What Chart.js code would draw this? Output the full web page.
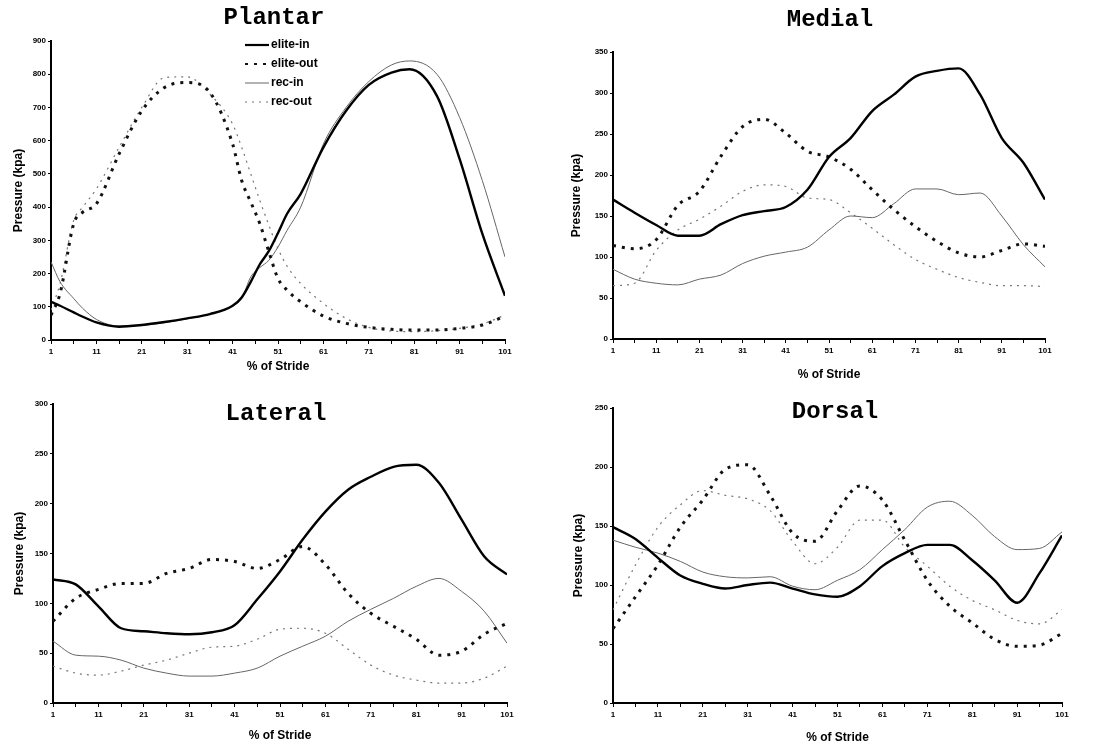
<!DOCTYPE html>
<html>
<head>
<meta charset="utf-8">
<title>Pressure across the stride</title>
<script src="https://cdn.jsdelivr.net/npm/chart.js@4.4.1/dist/chart.umd.min.js"></script>
<style>
  html, body { margin: 0; padding: 0; background: #fff; }
  #wrap { position: relative; width: 1097px; height: 746px; overflow: hidden; background: #fff; }
  #wrap canvas { position: absolute; left: 0; top: 0; }
</style>
</head>
<body>
<div id="wrap">
  <canvas id="plantar" width="1097" height="746"></canvas>
  <canvas id="medial" width="1097" height="746"></canvas>
  <canvas id="lateral" width="1097" height="746"></canvas>
  <canvas id="dorsal" width="1097" height="746"></canvas>
</div>
<script>
// ---- series and axis data ----
const seriesNames = ['elite-in', 'elite-out', 'rec-in', 'rec-out'];
const strideTicks = [1, 6, 11, 16, 21, 26, 31, 36, 41, 46, 51, 56, 61, 66, 71, 76, 81, 86, 91, 96, 101];

// Plantar (sampled more densely where the curves turn quickly)
const plantarStride = [1, 3, 6, 8, 11, 16, 21, 26, 31, 36, 41, 43, 45, 47, 49, 51, 53, 56, 61, 66, 71, 76, 80, 86, 91, 96, 101];
const plantarEliteIn  = [115, 103, 83, 70, 53, 40, 45, 54, 65, 78, 103, 128, 175, 228, 268, 322, 380, 440, 580, 690, 768, 805, 815, 735, 545, 320, 133];
const plantarEliteOut = [75, 140, 350, 385, 410, 560, 690, 760, 775, 745, 590, 480, 415, 350, 265, 185, 150, 115, 72, 50, 38, 32, 30, 30, 35, 45, 72];
const plantarRecIn    = [235, 175, 125, 95, 62, 42, 44, 52, 64, 78, 103, 125, 190, 218, 240, 280, 330, 400, 590, 700, 778, 828, 840, 800, 670, 480, 250];
const plantarRecOut   = [90, 170, 360, 400, 455, 580, 700, 790, 792, 740, 650, 580, 500, 420, 345, 275, 222, 170, 110, 65, 38, 27, 25, 28, 35, 48, 75];
const plantarYTicks = [0, 100, 200, 300, 400, 500, 600, 700, 800, 900];

// Medial
const medialStride = strideTicks;
const medialEliteIn  = [170, 154, 139, 126, 126, 140, 151, 156, 161, 182, 222, 245, 278, 298, 320, 327, 330, 298, 245, 215, 170];
const medialEliteOut = [114, 110, 121, 163, 180, 223, 259, 268, 251, 229, 222, 207, 182, 158, 137, 119, 105, 100, 108, 116, 113];
const medialRecIn    = [85, 73, 68, 66, 73, 78, 92, 101, 106, 112, 133, 150, 148, 165, 183, 183, 176, 178, 150, 115, 88];
const medialRecOut   = [65, 68, 108, 133, 146, 162, 180, 188, 186, 172, 170, 154, 135, 115, 97, 85, 75, 69, 65, 65, 64];
const medialYTicks = [0, 50, 100, 150, 200, 250, 300, 350];

// Lateral
const lateralStride = strideTicks;
const lateralEliteIn  = [124, 119, 97, 75, 72, 70, 69, 71, 78, 104, 132, 164, 192, 214, 227, 237, 239, 221, 184, 147, 129];
const lateralEliteOut = [82, 105, 114, 120, 120, 130, 135, 144, 142, 135, 144, 157, 139, 110, 90, 77, 64, 48, 52, 69, 80];
const lateralRecIn    = [62, 48, 47, 43, 35, 30, 27, 27, 30, 35, 47, 57, 67, 82, 94, 105, 117, 125, 112, 92, 60];
const lateralRecOut   = [37, 30, 28, 32, 38, 43, 50, 56, 57, 64, 74, 75, 70, 54, 38, 28, 23, 20, 20, 25, 37];
const lateralYTicks = [0, 50, 100, 150, 200, 250, 300];

// Dorsal
const dorsalStride = strideTicks;
const dorsalEliteIn  = [149, 139, 123, 108, 101, 97, 100, 102, 97, 92, 90, 99, 116, 127, 134, 134, 121, 104, 85, 110, 142];
const dorsalEliteOut = [63, 90, 117, 149, 172, 198, 202, 176, 144, 137, 163, 184, 172, 138, 104, 82, 68, 54, 48, 49, 59];
const dorsalRecIn    = [138, 132, 127, 120, 111, 107, 106, 107, 99, 96, 104, 113, 130, 147, 166, 171, 159, 141, 130, 131, 145];
const dorsalRecOut   = [79, 117, 149, 168, 180, 176, 173, 163, 137, 118, 132, 155, 155, 132, 116, 99, 87, 79, 70, 67, 79];
const dorsalYTicks = [0, 50, 100, 150, 200, 250];

// ---- drawing ----
const W = 1097, H = 746;
const TITLE_LH = 12 * 1.2;

const lineStyles = [
  { borderColor: '#000', borderWidth: 2.4, borderDash: [] },
  { borderColor: '#111', borderWidth: 3, borderDash: [3, 6] },
  { borderColor: '#666', borderWidth: 1, borderDash: [] },
  { borderColor: '#777', borderWidth: 1.2, borderDash: [2, 5] }
];

// Panel heading in a typewriter face
const panelTitle = {
  id: 'panelTitle',
  afterDraw(chart, args, opts) {
    const ctx = chart.ctx;
    ctx.save();
    ctx.font = 'bold 24px "Liberation Mono", "Courier New", monospace';
    ctx.fillStyle = '#000';
    ctx.textAlign = 'center';
    ctx.textBaseline = 'middle';
    ctx.fillText(opts.text, opts.x, opts.y);
    ctx.restore();
  }
};

// Compact key with a short line sample beside each series name
const seriesKey = {
  id: 'seriesKey',
  afterDraw(chart, args, opts) {
    if (!opts.show) return;
    const ctx = chart.ctx;
    ctx.save();
    ctx.font = 'bold 12px "Liberation Sans", Arial, sans-serif';
    ctx.fillStyle = '#000';
    ctx.textBaseline = 'middle';
    chart.data.datasets.forEach((ds, i) => {
      const y = opts.y + i * opts.gap;
      ctx.beginPath();
      ctx.strokeStyle = ds.borderColor;
      ctx.lineWidth = Math.min(ds.borderWidth, 2.2);
      ctx.setLineDash(ds.borderDash || []);
      ctx.moveTo(opts.x, y);
      ctx.lineTo(opts.x + opts.len, y);
      ctx.stroke();
      ctx.setLineDash([]);
      ctx.fillText(ds.label, opts.x + opts.len + 2, y);
    });
    ctx.restore();
  }
};

function drawPanel(id, title, xs, series, yTicks, g, key) {
  const yMax = yTicks[yTicks.length - 1];
  const yStep = yTicks[1] - yTicks[0];
  const tickFont = { family: '"Liberation Sans", Arial, sans-serif', size: 8, weight: 'bold' };
  const axisTitleFont = { family: '"Liberation Sans", Arial, sans-serif', size: 12, weight: 'bold' };

  const datasets = series.map((vals, i) => Object.assign({
    label: seriesNames[i],
    data: xs.map((x, j) => ({ x: x, y: vals[j] })),
    pointRadius: 0,
    fill: false,
    cubicInterpolationMode: 'monotone',
    borderCapStyle: 'butt'
  }, lineStyles[i]));

  new Chart(document.getElementById(id), {
    type: 'line',
    data: { datasets },
    plugins: [panelTitle, seriesKey],
    options: {
      responsive: false,
      animation: false,
      events: [],
      layout: {
        padding: {
          left: g.yTitleX - TITLE_LH / 2,
          right: W - g.right,
          top: g.top,
          bottom: H - (g.xTitleY + TITLE_LH / 2)
        }
      },
      plugins: {
        legend: { display: false },
        tooltip: { enabled: false },
        title: { display: false },
        panelTitle: { text: title, x: g.titleX, y: g.titleY },
        seriesKey: key || { show: false }
      },
      scales: {
        x: {
          type: 'linear',
          min: 1,
          max: 101,
          afterBuildTicks: s => { s.ticks = strideTicks.map(v => ({ value: v })); },
          afterFit: s => { s.height = g.xTitleY + TITLE_LH / 2 - g.bottom; },
          ticks: {
            autoSkip: false,
            maxRotation: 0,
            minRotation: 0,
            padding: 3,
            color: '#000',
            font: tickFont,
            callback: v => ((v - 1) % 10 === 0 ? String(v) : '')
          },
          grid: { drawOnChartArea: false, drawTicks: true, tickLength: 4, color: '#000', lineWidth: 1 },
          border: { display: true, color: '#000', width: 2 },
          title: { display: true, text: '% of Stride', color: '#000', font: axisTitleFont, padding: 0 }
        },
        y: {
          type: 'linear',
          min: 0,
          max: yMax,
          afterBuildTicks: s => { s.ticks = yTicks.map(v => ({ value: v })); },
          afterFit: s => { s.width = g.left - (g.yTitleX - TITLE_LH / 2); },
          ticks: { stepSize: yStep, padding: 2, color: '#000', font: tickFont },
          grid: { drawOnChartArea: false, drawTicks: true, tickLength: 3, color: '#000', lineWidth: 1 },
          border: { display: true, color: '#000', width: 2 },
          title: { display: true, text: 'Pressure (kpa)', color: '#000', font: axisTitleFont, padding: 0 }
        }
      }
    }
  });
}

drawPanel('plantar', 'Plantar', plantarStride,
  [plantarEliteIn, plantarEliteOut, plantarRecIn, plantarRecOut], plantarYTicks,
  { left: 51, right: 505, top: 41, bottom: 340, yTitleX: 19, xTitleY: 367, titleX: 274, titleY: 18 },
  { show: true, x: 245, y: 45, gap: 19, len: 24 });

drawPanel('medial', 'Medial', medialStride,
  [medialEliteIn, medialEliteOut, medialRecIn, medialRecOut], medialYTicks,
  { left: 613, right: 1045, top: 52, bottom: 339, yTitleX: 577, xTitleY: 375, titleX: 830, titleY: 20 });

drawPanel('lateral', 'Lateral', lateralStride,
  [lateralEliteIn, lateralEliteOut, lateralRecIn, lateralRecOut], lateralYTicks,
  { left: 53, right: 507, top: 404, bottom: 703, yTitleX: 20, xTitleY: 736, titleX: 276, titleY: 414 });

drawPanel('dorsal', 'Dorsal', dorsalStride,
  [dorsalEliteIn, dorsalEliteOut, dorsalRecIn, dorsalRecOut], dorsalYTicks,
  { left: 613, right: 1062, top: 408, bottom: 703, yTitleX: 579, xTitleY: 738, titleX: 835, titleY: 412 });
</script>
</body>
</html>
